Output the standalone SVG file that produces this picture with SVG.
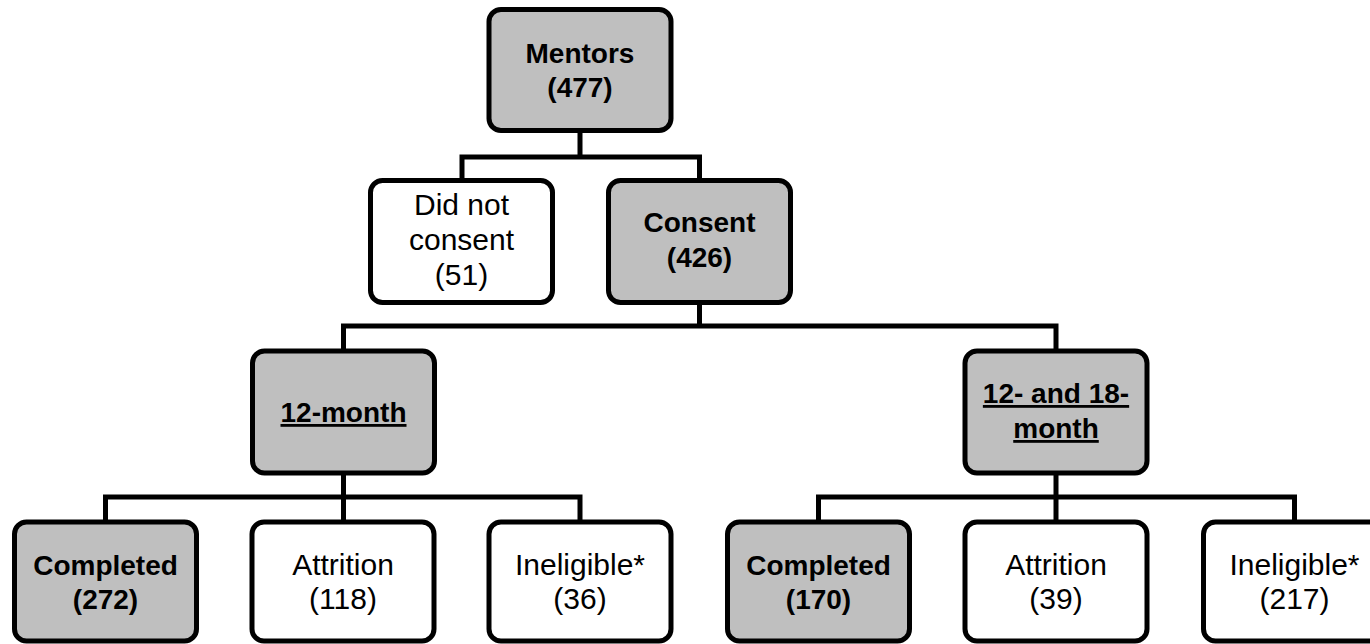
<svg xmlns="http://www.w3.org/2000/svg" width="1370" height="644" viewBox="0 0 1370 644">
<style>
.box{stroke:#000;stroke-width:5}
.g{fill:#BFBFBF}
.w{fill:#FFFFFF}
.conn{fill:none;stroke:#000;stroke-width:5;stroke-linejoin:miter}
text{font-family:"Liberation Sans",Arial,sans-serif;text-anchor:middle;fill:#000}
.b{font-weight:bold;font-size:28px}
.r{font-size:30px}
.u{text-decoration:underline}
</style>
<rect width="1370" height="644" fill="#FFFFFF"/>
<g id="connectors">
<path class="conn" d="M580 133 V157 M462 180 V157 H699.5 V180"/>
<path class="conn" d="M699.5 305 V326 M343.5 351 V326 H1056 V351"/>
<path class="conn" d="M343.5 475 V522 M105.5 522 V497 H580 V522"/>
<path class="conn" d="M1056 475 V522 M818.5 522 V497 H1294.5 V522"/>
</g>
<g id="mentors">
<rect class="box g" x="489" y="9.5" width="182" height="121" rx="12"/>
<text class="b" x="580" y="63">Mentors</text>
<text class="b" x="580" y="97">(477)</text>
</g>
<g id="did-not-consent">
<rect class="box w" x="370.5" y="180.5" width="182" height="122" rx="12"/>
<text class="r" x="461.5" y="215">Did not</text>
<text class="r" x="461.5" y="250">consent</text>
<text class="r" x="461.5" y="285">(51)</text>
</g>
<g id="consent">
<rect class="box g" x="608.5" y="180.5" width="182" height="122" rx="12"/>
<text class="b" x="699.5" y="232">Consent</text>
<text class="b" x="699.5" y="267">(426)</text>
</g>
<g id="month12">
<rect class="box g" x="252.5" y="351" width="182" height="122" rx="12"/>
<text class="b u" x="343.5" y="422">12-month</text>
</g>
<g id="month12-18">
<rect class="box g" x="965" y="351" width="182" height="122" rx="12"/>
<text class="b u" x="1056" y="403">12- and 18-</text>
<text class="b u" x="1056" y="438">month</text>
</g>
<g id="completed-12">
<rect class="box g" x="14.5" y="522" width="182" height="119" rx="12"/>
<text class="b" x="105.5" y="575">Completed</text>
<text class="b" x="105.5" y="609">(272)</text>
</g>
<g id="attrition-12">
<rect class="box w" x="252" y="522" width="182" height="119" rx="12"/>
<text class="r" x="343" y="575">Attrition</text>
<text class="r" x="343" y="609">(118)</text>
</g>
<g id="ineligible-12">
<rect class="box w" x="489" y="522" width="182" height="119" rx="12"/>
<text class="r" x="580" y="575">Ineligible*</text>
<text class="r" x="580" y="609">(36)</text>
</g>
<g id="completed-18">
<rect class="box g" x="727.5" y="522" width="182" height="119" rx="12"/>
<text class="b" x="818.5" y="575">Completed</text>
<text class="b" x="818.5" y="609">(170)</text>
</g>
<g id="attrition-18">
<rect class="box w" x="965" y="522" width="182" height="119" rx="12"/>
<text class="r" x="1056" y="575">Attrition</text>
<text class="r" x="1056" y="609">(39)</text>
</g>
<g id="ineligible-18">
<rect class="box w" x="1203.5" y="522" width="182" height="119" rx="12"/>
<text class="r" x="1294.5" y="575">Ineligible*</text>
<text class="r" x="1294.5" y="609">(217)</text>
</g>
</svg>
